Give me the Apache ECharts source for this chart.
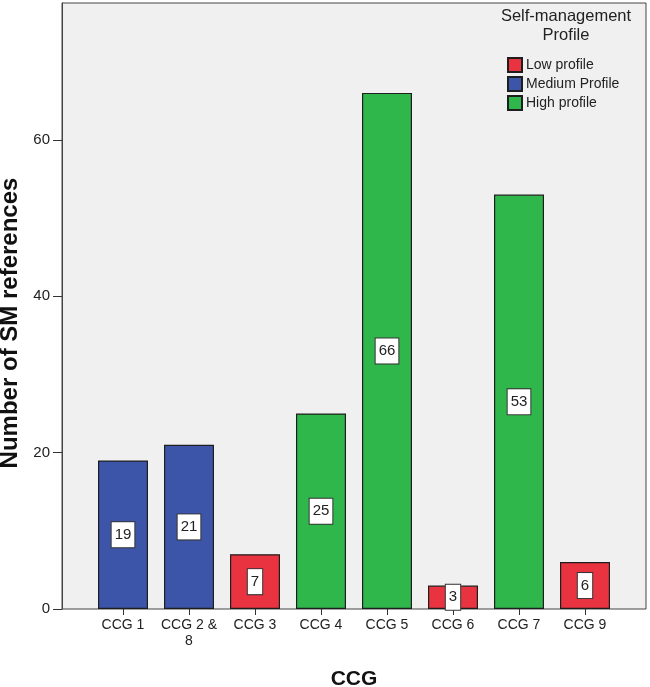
<!DOCTYPE html>
<html>
<head>
<meta charset="utf-8">
<script src="https://cdn.jsdelivr.net/npm/echarts@6/dist/echarts.min.js"></script>
<style>
html,body{margin:0;padding:0;background:#fff;}
#c{width:650px;height:687px;}
</style>
</head>
<body>
<div id="c"></div>
<script>
var categories = ['CCG 1', 'CCG 2 & 8', 'CCG 3', 'CCG 4', 'CCG 5', 'CCG 6', 'CCG 7', 'CCG 9'];
var values = [19, 21, 7, 25, 66, 3, 53, 6];
var profiles = ['Medium Profile', 'Medium Profile', 'Low profile', 'High profile', 'High profile', 'Low profile', 'High profile', 'Low profile'];
var legendNames = ['Low profile', 'Medium Profile', 'High profile'];
var yTicks = [0, 20, 40, 60];

var colors = {'Low profile': '#ea3340', 'Medium Profile': '#3d55a8', 'High profile': '#2fb74b'};
var FONT = 'Arial, "Liberation Sans", sans-serif';

var chart = echarts.init(document.getElementById('c'), null, {renderer: 'canvas'});

var series = legendNames.map(function (name) {
  return {
    name: name,
    type: 'bar',
    xAxisIndex: 1,
    yAxisIndex: 1,
    stack: 'all',
    barWidth: 50,
    itemStyle: {color: colors[name], borderColor: '#1e1e1e', borderWidth: 1.2},
    label: {
      show: true,
      position: 'inside',
      formatter: '{c}',
      fontFamily: FONT,
      fontSize: 15,
      color: '#222',
      backgroundColor: '#fff',
      borderColor: '#333',
      borderWidth: 1,
      padding: [5, 3, 4, 3],
      lineHeight: 16
    },
    data: values.map(function (v, i) { return profiles[i] === name ? v : '-'; })
  };
});

var option = {
  animation: false,
  textStyle: {fontFamily: FONT},
  graphic: [{
    type: 'text',
    x: 566,
    y: 7,
    z: 100,
    style: {
      text: 'Self-management\nProfile',
      align: 'center',
      verticalAlign: 'top',
      fontSize: 16.5,
      lineHeight: 19,
      fontFamily: FONT,
      fill: '#222'
    }
  }],
  legend: {
    data: legendNames,
    orient: 'vertical',
    left: 507,
    top: 57,
    padding: 0,
    itemWidth: 14,
    itemHeight: 14,
    itemGap: 3,
    icon: 'rect',
    textStyle: {fontSize: 14, color: '#222', fontFamily: FONT, padding: [0, 0, 0, -1]},
    selectedMode: false
  },
  grid: [
    {left: 62, top: 3, width: 584, height: 606, show: true, backgroundColor: '#f0f0f0', borderColor: '#444', borderWidth: 1, outerBoundsMode: 'none', containLabel: false},
    {left: 90, top: 3, width: 528, height: 606, outerBoundsMode: 'none', containLabel: false}
  ],
  xAxis: [
    {gridIndex: 0, type: 'value', min: 0, max: 1, show: false},
    {
      gridIndex: 1,
      type: 'category',
      data: categories,
      axisLine: {show: false},
      axisTick: {show: true, alignWithLabel: true, length: 6, interval: 0, lineStyle: {color: '#333'}},
      axisLabel: {
        interval: 0, hideOverlap: false,
        fontSize: 14, color: '#222', margin: 8, fontFamily: FONT, lineHeight: 16,
        formatter: function (v) { return v.replace('& ', '&\n'); }
      },
      name: 'CCG',
      nameLocation: 'middle',
      nameGap: 60,
      nameTextStyle: {fontSize: 21, fontWeight: 'bold', color: '#111', fontFamily: FONT}
    }
  ],
  yAxis: [
    {
      gridIndex: 0,
      type: 'value',
      min: 0,
      max: 77.5,
      splitLine: {show: false},
      axisLine: {show: true, lineStyle: {color: '#444'}},
      axisTick: {show: true, length: 9, customValues: yTicks, lineStyle: {color: '#333'}},
      axisLabel: {fontSize: 15, color: '#222', margin: 12, customValues: yTicks, fontFamily: FONT},
      name: 'Number of SM references',
      nameLocation: 'middle',
      nameGap: 40,
      nameTextStyle: {fontSize: 24, fontWeight: 'bold', color: '#111', fontFamily: FONT, padding: [0, 34, 0, 0]}
    },
    {gridIndex: 1, type: 'value', min: 0, max: 77.5, show: false, splitLine: {show: false}}
  ],
  series: series
};
chart.setOption(option);
</script>
</body>
</html>
